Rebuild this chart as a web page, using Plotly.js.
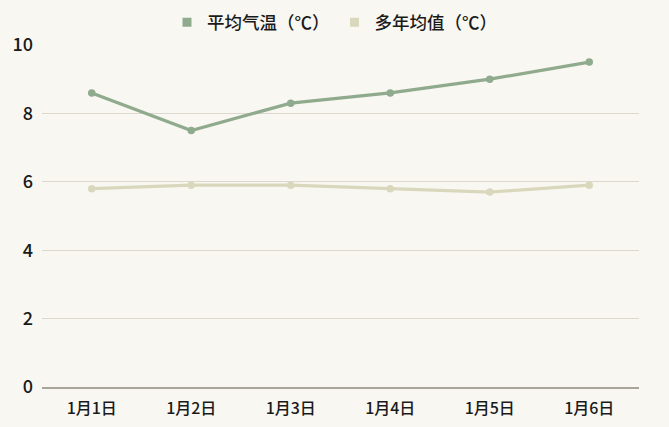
<!DOCTYPE html>
<html><head><meta charset="utf-8">
<script src="https://cdn.plot.ly/plotly-3.0.1.min.js"></script>
<style>html,body{margin:0;padding:0;background:#f9f7f2;}#chart{width:669px;height:427px;}</style>
</head><body><div id="chart"></div>
<script>
const categories = ["1月1日","1月2日","1月3日","1月4日","1月5日","1月6日"];
const avgTemp = [8.6, 7.5, 8.3, 8.6, 9.0, 9.5];
const normalTemp = [5.8, 5.9, 5.9, 5.8, 5.7, 5.9];
const seriesNames = ["平均气温（℃）","多年均值（℃）"];
const seriesColors = ['#90aa8d', '#d9d8bd'];
const yTicks = [0,2,4,6,8,10];

const font = "'Noto Sans CJK SC','Noto Sans',sans-serif";
const values = [avgTemp, normalTemp];
const traces = [];
values.forEach((v, i) => {
  traces.push({x: categories, y: v, name: seriesNames[i], type: 'scatter', mode: 'lines+markers',
    showlegend: false, line: {color: seriesColors[i], width: 3.2},
    marker: {color: seriesColors[i], size: 7.5}});
});
// legend entries (square swatches)
values.forEach((v, i) => {
  traces.push({x: [null], y: [null], name: seriesNames[i], type: 'scatter', mode: 'markers',
    marker: {color: seriesColors[i], size: 9, symbol: 'square'}});
});
const layout = {
  width: 669, height: 427,
  paper_bgcolor: '#f9f7f2', plot_bgcolor: '#f9f7f2',
  font: {family: font, color: '#1a1a1a', size: 16, weight: 500},
  margin: {l: 42, r: 30, t: 45, b: 40, autoexpand: false},
  showlegend: true,
  legend: {orientation: 'h', x: 0.5, xanchor: 'center', xref: 'container',
           y: 0.99, yanchor: 'top', yref: 'container',
           font: {size: 17.5, family: font, weight: 500}, itemwidth: 20, traceorder: 'normal',
           bgcolor: 'rgba(0,0,0,0)'},
  xaxis: {type: 'category', range: [-0.5, 5.5], showgrid: false, showline: true,
          linecolor: '#a8a59c', linewidth: 1.5, ticks: '', zeroline: false,
          tickfont: {size: 16, family: font, weight: 500}, ticklabelstandoff: 6},
  yaxis: {range: [0, 10], tickvals: yTicks, ticktext: yTicks.map(String),
          showgrid: true, gridcolor: '#dcd8cd', gridwidth: 1, zeroline: false,
          showline: false, ticks: '', tickfont: {size: 18, family: font, weight: 500}, ticklabelstandoff: 8}
};
Plotly.newPlot('chart', traces, layout, {displayModeBar: false, staticPlot: true});
</script></body></html>
